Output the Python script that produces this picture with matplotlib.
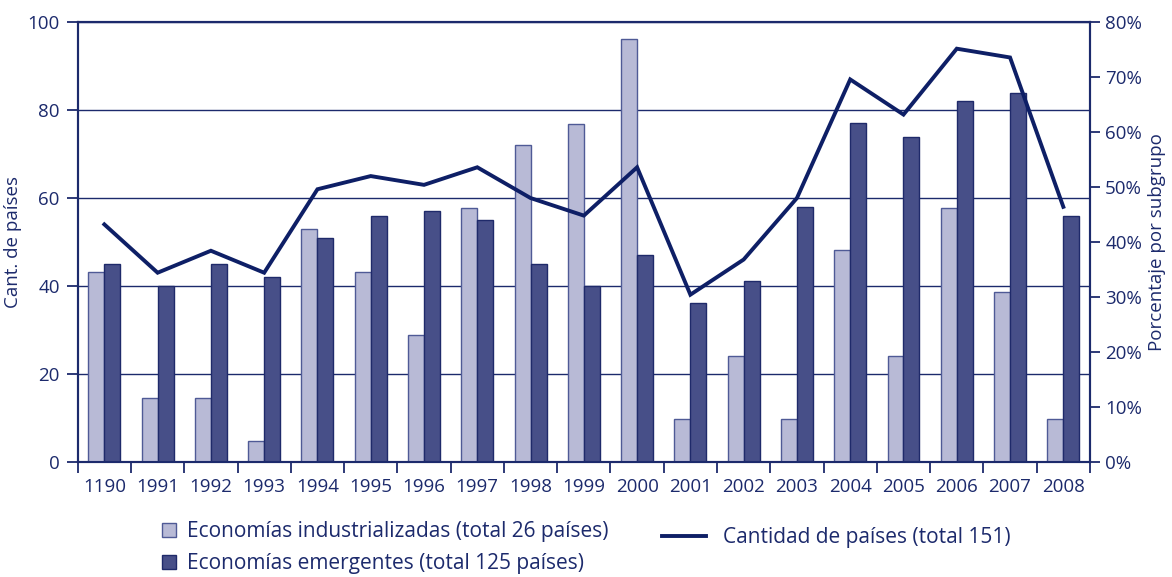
import matplotlib
matplotlib.use("Agg")
import matplotlib.pyplot as plt
from matplotlib.patches import Patch
from matplotlib.lines import Line2D
from matplotlib.ticker import FuncFormatter, MultipleLocator

# Data
years = ["1190", "1991", "1992", "1993", "1994", "1995", "1996", "1997", "1998", "1999",
         "2000", "2001", "2002", "2003", "2004", "2005", "2006", "2007", "2008"]
# percentage of each subgroup (right axis)
industrial_pct = [34.6, 11.5, 11.5, 3.8, 42.3, 34.6, 23.1, 46.2, 57.7, 61.5,
                  76.9, 7.7, 19.2, 7.7, 38.5, 19.2, 46.2, 30.8, 7.7]
emerging_pct = [36.0, 32.0, 36.0, 33.6, 40.8, 44.8, 45.6, 44.0, 36.0, 32.0,
                37.6, 28.8, 32.8, 46.4, 61.6, 59.2, 65.6, 67.2, 44.8]
# number of countries (left axis)
total_count = [54, 43, 48, 43, 62, 65, 63, 67, 60, 56,
               67, 38, 46, 60, 87, 79, 94, 92, 58]

label_ind = "Economías industrializadas (total 26 países)"
label_emg = "Economías emergentes (total 125 países)"
label_tot = "Cantidad de países (total 151)"

NAVY = "#1c2a6c"
LINE = "#0e1f66"
LIGHT = "#b8bad6"
DARK = "#474f88"

plt.rcParams["font.family"] = ["Open Sans", "DejaVu Sans"]
plt.rcParams["text.color"] = NAVY
plt.rcParams["axes.labelcolor"] = NAVY
plt.rcParams["xtick.color"] = NAVY
plt.rcParams["ytick.color"] = NAVY

fig = plt.figure(figsize=(11.72, 5.77), dpi=100)
ax = fig.add_axes([0.0663, 0.2, 0.8637, 0.7613])
ax2 = ax.twinx()

x = list(range(len(years)))
w = 0.30

# grid on the left axis (behind bars)
ax.set_ylim(0, 100)
ax.yaxis.set_major_locator(MultipleLocator(20))
ax.grid(axis="y", color=NAVY, linewidth=1.0)
ax.set_axisbelow(True)

# bars on the right (percentage) axis
ax2.set_ylim(0, 80)
ax2.bar([i - w / 2 for i in x], industrial_pct, width=w, color=LIGHT,
        edgecolor="#4f5a96", linewidth=1.0, zorder=2)
ax2.bar([i + w / 2 for i in x], emerging_pct, width=w, color=DARK,
        edgecolor="#1f2a6a", linewidth=1.0, zorder=2)

# count line, drawn above the bars but in left-axis units
ax2.plot(x, total_count, color=LINE, linewidth=2.8, zorder=3,
         transform=ax.transData, solid_joinstyle="miter", clip_on=False)

ax.set_xlim(-0.5, len(years) - 0.5)
ax.set_xticks(x)
ax.set_xticklabels(years)
ax.set_xticks([i - 0.5 for i in range(len(years) + 1)], minor=True)
ax.tick_params(axis="x", which="major", length=0, pad=12, labelsize=13.5)
ax.tick_params(axis="x", which="minor", length=8, width=1.3, color=NAVY, direction="out")
ax.tick_params(axis="y", length=8, width=1.3, color=NAVY, pad=5, labelsize=13.5)

ax2.yaxis.set_major_locator(MultipleLocator(10))
ax2.yaxis.set_major_formatter(FuncFormatter(lambda v, p: f"{v:.0f}%"))
ax2.tick_params(axis="y", length=7, width=1.3, color=NAVY, pad=4, labelsize=13.5)

for a in (ax, ax2):
    for s in a.spines.values():
        s.set_color(NAVY)
        s.set_linewidth(1.5)

ax.set_ylabel("Cant. de países", fontsize=13.5, labelpad=4)
ax2.set_ylabel("Porcentaje por subgrupo", fontsize=13.5, labelpad=4)

# legends
bar_handles = [Patch(facecolor=LIGHT, edgecolor="#4f5a96", linewidth=1.0),
               Patch(facecolor=DARK, edgecolor="#1f2a6a", linewidth=1.0)]
fig.legend(bar_handles, [label_ind, label_emg], loc="upper left",
           bbox_to_anchor=(162 / 1172, 1 - 521 / 577), frameon=False,
           fontsize=15, handlelength=0.66, handleheight=0.66,
           handletextpad=0.55, labelspacing=0.52, borderpad=0, borderaxespad=0)
fig.legend([Line2D([0], [0], color=LINE, linewidth=2.8)], [label_tot],
           loc="upper left", bbox_to_anchor=(662 / 1172, 1 - 527 / 577),
           frameon=False, fontsize=15, handlelength=2.1, handletextpad=0.85,
           borderpad=0, borderaxespad=0)

fig.savefig("out.png", dpi=100)
